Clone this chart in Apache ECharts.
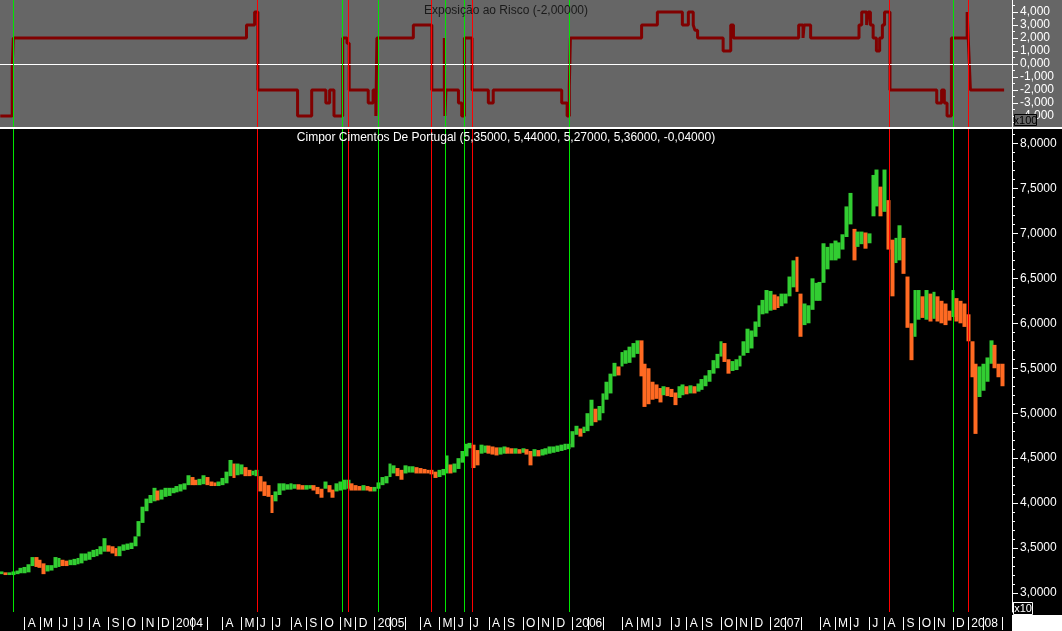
<!DOCTYPE html>
<html><head><meta charset="utf-8">
<script src="https://cdn.jsdelivr.net/npm/echarts@6/dist/echarts.min.js"></script>
<style>html,body{margin:0;padding:0;background:#000}#c{width:1062px;height:631px}</style>
</head><body><div id="c"></div>
<script>
// ---- data ----
const FIRST_WEEK = '2003-02-21';   // week-ending Friday of first weekly bar
const WEEK_COUNT = 266;            // weekly slots on the axis
const AXIS_START = '2003-02-15T12';
const AXIS_END = '2008-03-22T12';

const weekLow = [
3.21,3.20,3.20,3.20,3.21,3.22,3.22,3.23,3.30,3.29,
3.28,3.21,3.24,3.25,3.28,3.29,3.30,3.30,3.31,3.31,
3.32,3.33,3.36,3.37,3.40,3.41,3.43,3.46,3.46,3.44,
3.41,3.41,3.47,3.48,3.49,3.52,3.63,3.78,3.91,4.00,
4.02,4.03,4.04,4.07,4.08,4.11,4.12,4.13,4.15,4.20,
4.20,4.20,4.20,4.21,4.20,4.19,4.19,4.19,4.20,4.22,
4.30,4.28,4.31,4.32,4.30,4.30,4.31,4.30,4.13,4.08,
4.07,3.89,4.02,4.09,4.14,4.15,4.15,4.16,4.15,4.15,
4.15,4.16,4.14,4.10,4.06,4.16,4.12,4.06,4.13,4.14,
4.15,4.16,4.14,4.14,4.14,4.14,4.14,4.13,4.13,4.16,
4.20,4.22,4.29,4.33,4.30,4.26,4.33,4.34,4.34,4.33,
4.33,4.33,4.33,4.32,4.28,4.29,4.31,4.33,4.33,4.34,
4.38,4.45,4.52,4.61,4.39,4.42,4.55,4.56,4.55,4.54,
4.53,4.54,4.55,4.55,4.55,4.55,4.55,4.56,4.54,4.42,
4.52,4.52,4.53,4.54,4.55,4.56,4.57,4.58,4.59,4.60,
4.62,4.76,4.74,4.78,4.80,4.86,4.90,4.92,5.00,5.15,
5.22,5.41,5.42,5.52,5.55,5.56,5.62,5.66,5.41,5.07,
5.10,5.15,5.16,5.12,5.20,5.19,5.18,5.09,5.17,5.20,
5.21,5.22,5.22,5.24,5.26,5.30,5.35,5.44,5.50,5.63,
5.57,5.44,5.47,5.48,5.52,5.64,5.67,5.72,5.85,5.96,
6.10,6.11,6.14,6.15,6.17,6.19,6.22,6.30,6.40,6.35,
5.85,5.98,6.00,6.15,6.25,6.25,6.45,6.60,6.70,6.70,
6.72,6.82,6.96,7.10,6.70,6.85,6.88,6.83,6.89,7.19,
7.30,7.19,7.24,6.82,6.30,6.67,6.70,6.55,5.95,5.59,
5.85,6.04,6.06,6.04,6.02,6.05,6.02,6.00,5.98,6.03,
6.07,6.02,6.00,5.96,5.80,5.40,4.77,5.18,5.25,5.35,
5.55,5.50,5.40,5.30];

const weekHigh = [
3.24,3.23,3.23,3.24,3.25,3.28,3.29,3.32,3.40,3.40,
3.37,3.33,3.31,3.31,3.40,3.39,3.37,3.36,3.37,3.38,
3.39,3.44,3.44,3.46,3.48,3.49,3.52,3.61,3.53,3.52,
3.50,3.52,3.54,3.55,3.56,3.63,3.80,3.96,4.05,4.09,
4.17,4.14,4.15,4.17,4.17,4.17,4.19,4.21,4.22,4.31,
4.29,4.26,4.27,4.31,4.29,4.24,4.23,4.24,4.28,4.35,
4.48,4.44,4.44,4.43,4.40,4.37,4.36,4.37,4.30,4.24,
4.20,4.09,4.13,4.22,4.22,4.21,4.22,4.21,4.21,4.20,
4.20,4.20,4.20,4.18,4.16,4.24,4.20,4.15,4.22,4.24,
4.26,4.26,4.22,4.20,4.19,4.20,4.19,4.18,4.18,4.23,
4.29,4.30,4.44,4.42,4.39,4.37,4.42,4.41,4.41,4.40,
4.39,4.38,4.37,4.37,4.35,4.37,4.38,4.53,4.43,4.44,
4.50,4.58,4.66,4.67,4.65,4.59,4.65,4.64,4.64,4.63,
4.62,4.62,4.63,4.62,4.61,4.61,4.60,4.61,4.60,4.58,
4.60,4.59,4.60,4.61,4.63,4.63,4.64,4.65,4.66,4.66,
4.80,4.86,4.83,4.85,5.00,5.15,5.05,5.08,5.22,5.35,
5.44,5.56,5.52,5.68,5.70,5.74,5.78,5.81,5.81,5.55,
5.50,5.35,5.32,5.28,5.30,5.29,5.27,5.23,5.30,5.32,
5.30,5.31,5.30,5.33,5.38,5.42,5.48,5.59,5.66,5.80,
5.78,5.60,5.58,5.60,5.64,5.80,5.94,5.92,6.02,6.20,
6.26,6.37,6.36,6.32,6.30,6.33,6.33,6.52,6.70,6.74,
6.33,6.22,6.20,6.50,6.45,6.46,6.89,6.85,6.89,6.92,
6.90,6.99,7.30,7.45,7.05,7.02,7.02,7.01,7.00,7.65,
7.71,7.52,7.71,7.37,6.93,6.95,7.09,6.95,6.52,6.00,
6.37,6.37,6.30,6.37,6.33,6.35,6.30,6.25,6.22,6.14,
6.37,6.28,6.25,6.22,6.10,5.80,5.55,5.52,5.55,5.62,
5.81,5.76,5.55,5.55];

const riskDates = [
'2003-02-16','2003-03-10','2003-03-12','2004-05-14','2004-05-29','2004-06-04',
'2004-08-16','2004-09-11','2004-10-07','2004-10-14','2004-10-22','2004-11-07',
'2004-11-15','2004-11-19','2004-12-24','2005-01-02','2005-01-07','2005-01-09',
'2005-03-17','2005-04-20','2005-05-13','2005-05-14','2005-05-16','2005-06-08',
'2005-06-14','2005-06-19','2005-07-03','2005-08-02','2005-08-11','2005-12-15',
'2005-12-25','2005-12-29','2005-12-31','2006-05-11','2006-06-09','2006-07-25',
'2006-08-05','2006-08-14','2006-08-17','2006-08-22','2006-10-08','2006-10-22',
'2006-10-27','2007-02-24','2007-03-04','2007-03-06','2007-03-18','2007-06-15',
'2007-06-20','2007-06-29','2007-07-02','2007-07-06','2007-07-11','2007-07-17',
'2007-07-23','2007-07-28','2007-08-01','2007-08-11','2007-11-05','2007-11-14',
'2007-11-19','2007-11-24','2007-12-02','2007-12-31','2008-01-03','2008-01-06',
'2008-03-08'];
const riskValues = [
-4,-0.2,2,3,4,-2,
-4,-2,-3,-2,-4,2,
1.6,-2,-3,-2,-4,2,
3,-2,2,-4,-2,-3,
-4,2,-2,-3,-2,-3,
-4,-1.7,2,3,4,3,
4,3,2.6,2,1,3,
2,3,2,3,2,3,
4,3,4,3,2,1,
2,3,4,-2,-3,-2,
-3,-4,2,4,1,-2,
-2];

const buyDates  = ['2003-03-13','2004-11-07','2005-01-11','2005-05-16','2005-06-20','2005-12-30','2007-12-05'];
const sellDates = ['2004-06-04','2004-11-18','2005-04-20','2005-07-03','2007-08-11','2008-01-03'];

const monthMarks = ['', '', '', 'A', 'M', 'J', 'J', 'A', 'S', 'O', 'N', 'D']; // January shows the year
const riskTicks = [-4, -3, -2, -1, 0, 1, 2, 3, 4];
const riskMinorTicks = [-4.5, -3.5, -2.5, -1.5, -0.5, 0.5, 1.5, 2.5, 3.5, 4.5];
const priceTicks = [3, 3.5, 4, 4.5, 5, 5.5, 6, 6.5, 7, 7.5, 8];

const TITLE_RISK = 'Exposição ao Risco (-2,00000)';
const TITLE_PRICE = 'Cimpor Cimentos De Portugal (5,35000, 5,44000, 5,27000, 5,36000, -0,04000)';

// ---- helpers ----
function ts(s) {
  const [d, h] = s.split('T');
  const [y, m, dd] = d.split('-').map(Number);
  return new Date(y, m - 1, dd, h ? Number(h) : 0).getTime();
}
function pad(n) { return (n < 10 ? '0' : '') + n; }
const fw = FIRST_WEEK.split('-').map(Number);
const categories = [];
for (let i = 0; i < WEEK_COUNT; i++) {
  const d = new Date(fw[0], fw[1] - 1, fw[2] + 7 * i);
  categories.push(d.getFullYear() + '-' + pad(d.getMonth() + 1) + '-' + pad(d.getDate()));
}
function monthOf(s) { return Number(s.split('-')[1]) - 1; }
function isMonthStart(i) {
  return i >= 3 && monthOf(categories[i]) !== monthOf(categories[i - 1]);
}
const priceMinorTicks = [];
for (let k = 28; k <= 81; k++) priceMinorTicks.push(k / 10);

const candleData = weekLow.map((lo, i) => {
  const hi = weekHigh[i];
  const mid = (lo + hi) / 2;
  const prev = i ? (weekLow[i - 1] + weekHigh[i - 1]) / 2 : mid;
  return mid >= prev ? [lo, hi, lo, hi] : [hi, lo, lo, hi];
});
const signalData = buyDates.map(d => [ts(d), 1]).concat(sellDates.map(d => [ts(d), 0]));
const riskData = riskDates.map((d, i) => [ts(d), riskValues[i]]);

const FONT = '"Liberation Sans", Arial, sans-serif';
function signalRender(params, api) {
  const x = Math.floor(api.coord([api.value(0), 0])[0]) + 0.5;
  const cs = params.coordSys;
  return {
    type: 'line',
    shape: { x1: x, y1: cs.y, x2: x, y2: cs.y + cs.height },
    style: { stroke: api.value(1) === 1 ? '#00e600' : '#ff0000', lineWidth: 1 }
  };
}
function yMajor(grid, min, max, ticks, digits) {
  return {
    type: 'value', gridIndex: grid, position: 'right', min: min, max: max,
    axisLine: { show: true, lineStyle: { color: '#fff', width: 1 } },
    axisTick: { show: true, length: 6, lineStyle: { color: '#fff' }, customValues: ticks },
    axisLabel: { color: '#fff', fontSize: 12, fontFamily: FONT, margin: 8, customValues: ticks,
      formatter: v => Number(v).toFixed(digits).replace('.', ',') },
    splitLine: { show: false }
  };
}
function yMinor(grid, min, max, ticks) {
  return {
    type: 'value', gridIndex: grid, position: 'right', min: min, max: max,
    axisLine: { show: false },
    axisTick: { show: true, length: 3, lineStyle: { color: '#fff' }, customValues: ticks },
    axisLabel: { show: false },
    splitLine: { show: false }
  };
}

const chart = echarts.init(document.getElementById('c'), null, { renderer: 'canvas' });
chart.setOption({
  backgroundColor: '#000',
  animation: false,
  textStyle: { fontFamily: FONT },
  grid: [
    { left: 0, top: 0, width: 1012, height: 127, show: true, backgroundColor: '#666', borderWidth: 0 },
    { left: 0, top: 129, width: 1012, height: 483, show: false }
  ],
  xAxis: [
    { type: 'time', gridIndex: 0, min: ts(AXIS_START), max: ts(AXIS_END), show: false },
    { type: 'category', gridIndex: 1, data: categories, boundaryGap: true, offset: 5,
      axisLine: { show: false },
      axisTick: { show: true, alignWithLabel: true, length: 13, interval: (i) => isMonthStart(i),
        lineStyle: { color: '#fff', width: 1 } },
      splitLine: { show: false },
      axisLabel: {
        color: '#fff', fontSize: 12, fontFamily: FONT, align: 'left', margin: 1, padding: [0, 0, 0, 3],
        hideOverlap: false,
        interval: (i) => isMonthStart(i),
        formatter: (v) => {
          const m = monthOf(v);
          return m === 0 ? v.slice(0, 4) : monthMarks[m];
        }
      } },
    { type: 'time', gridIndex: 1, min: ts(AXIS_START), max: ts(AXIS_END), show: false }
  ],
  yAxis: [
    yMajor(0, -4.85, 4.92, riskTicks, 3),
    yMinor(0, -4.85, 4.92, riskMinorTicks),
    yMajor(1, 2.789, 8.161, priceTicks, 4),
    yMinor(1, 2.789, 8.161, priceMinorTicks)
  ],
  series: [
    { type: 'line', xAxisIndex: 0, yAxisIndex: 0, step: 'end', data: riskData, symbol: 'none',
      lineStyle: { color: '#800000', width: 3 }, z: 3, silent: true,
      markLine: { silent: true, symbol: 'none', label: { show: false },
        lineStyle: { color: '#ffffff', width: 1, type: 'solid' }, data: [{ yAxis: 0 }] } },
    { type: 'custom', xAxisIndex: 0, yAxisIndex: 0, data: signalData, renderItem: signalRender,
      encode: { x: 0, y: 1 }, z: 5, silent: true },
    { type: 'candlestick', xAxisIndex: 1, yAxisIndex: 2, data: candleData, barWidth: 4.4,
      itemStyle: { color: '#32cd32', color0: '#ff6a22', borderColor: '#32cd32', borderColor0: '#ff6a22', borderWidth: 0 },
      silent: true, z: 3 },
    { type: 'custom', xAxisIndex: 2, yAxisIndex: 2, data: signalData, renderItem: signalRender,
      encode: { x: 0, y: 1 }, z: 5, silent: true }
  ],
  graphic: [
    { type: 'rect', z: -10, silent: true, shape: { x: 1012, y: 0, width: 50, height: 127 }, style: { fill: '#666' } },
    { type: 'rect', z: 20, silent: true, shape: { x: 0, y: 127, width: 1062, height: 2 }, style: { fill: '#fff' } },
    { type: 'text', z: 20, silent: true, x: 506, y: 11,
      style: { text: TITLE_RISK, fill: '#1a1a1a', font: '12px ' + FONT, align: 'center', verticalAlign: 'middle' } },
    { type: 'text', z: 20, silent: true, x: 506, y: 138,
      style: { text: TITLE_PRICE, fill: '#fff', font: '12px ' + FONT, align: 'center', verticalAlign: 'middle' } },
    { type: 'rect', z: 20, silent: true, shape: { x: 1014.5, y: 114.5, width: 22, height: 11 }, style: { fill: '#666', stroke: '#000', lineWidth: 1 } },
    { type: 'text', z: 21, silent: true, x: 1025.5, y: 120.5,
      style: { text: 'x100', fill: '#000', font: '11px ' + FONT, align: 'center', verticalAlign: 'middle' } },
    { type: 'rect', z: 20, silent: true, shape: { x: 1012, y: 615, width: 50, height: 16 }, style: { fill: '#fff' } },
    { type: 'rect', z: 20, silent: true, shape: { x: 1013.5, y: 602.5, width: 19, height: 12 }, style: { fill: '#000', stroke: '#fff', lineWidth: 1 } },
    { type: 'text', z: 21, silent: true, x: 1023, y: 608.5,
      style: { text: 'x10', fill: '#fff', font: '11px ' + FONT, align: 'center', verticalAlign: 'middle' } }
  ]
});
</script>
</body></html>
